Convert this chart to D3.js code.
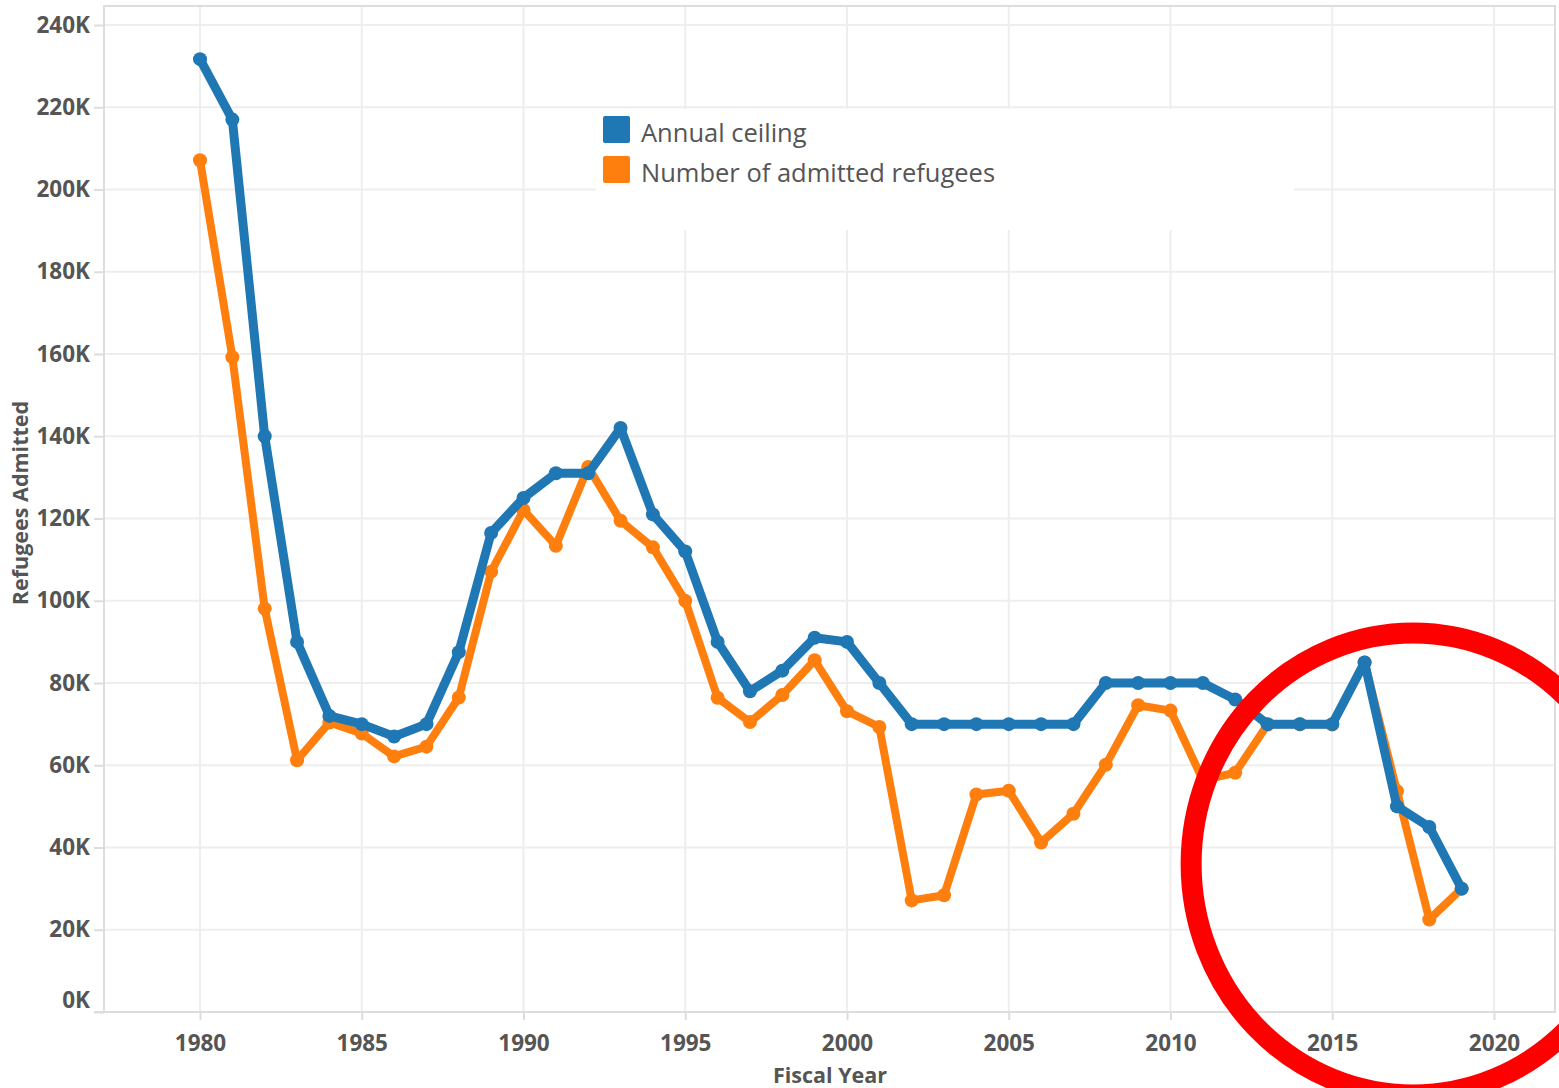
<!DOCTYPE html>
<html>
<head>
<meta charset="utf-8">
<script src="https://cdn.jsdelivr.net/npm/d3@7"></script>
<style>
  body { margin: 0; background: #fff; }
  svg { display: block; }
</style>
</head>
<body>
<div id="chart"></div>
<script>
// fiscal years and the two series
var years = d3.range(1980, 2020);
var ceiling = [231700, 217000, 140000, 90000, 72000, 70000, 67000, 70000, 87500, 116500,
               125000, 131000, 131000, 142000, 121000, 112000, 90000, 78000, 83000, 91000,
               90000, 80000, 70000, 70000, 70000, 70000, 70000, 70000, 80000, 80000,
               80000, 80000, 76000, 70000, 70000, 70000, 85000, 50000, 45000, 30000];
var admitted = [207116, 159252, 98096, 61218, 70393, 67704, 62146, 64528, 76483, 107070,
                122066, 113389, 132531, 119448, 112981, 99974, 76403, 70488, 77080, 85525,
                73147, 69304, 27131, 28403, 52873, 53813, 41223, 48218, 60107, 74602,
                73293, 56384, 58179, 69909, 69975, 69920, 84994, 53716, 22491, 30000];
var seriesNames = ["Annual ceiling", "Number of admitted refugees"];
var seriesColors = ["#1f77b4", "#ff7f0e"];
var xTicks = [1980, 1985, 1990, 1995, 2000, 2005, 2010, 2015, 2020];
var yTicks = d3.range(0, 240001, 20000);

(function() {
  var width = 1559,
      height = 1088;

  var plotLeft = 104, plotRight = 1555, plotTop = 6, plotBottom = 1012;

  var svg = d3.select("#chart")
    .append("svg")
    .attr("width", width)
    .attr("height", height);

  var x = d3.scaleLinear().domain([1980, 2020]).range([200, 1494]);
  var y = d3.scaleLinear().domain([0, 240000]).range([plotBottom, 25]);

  var fontTick = "'Open Sans', 'DejaVu Sans', sans-serif";

  //gridlines
  svg.append("g").selectAll("line.gy")
    .data(yTicks)
    .enter().append("line")
    .attr("x1", plotLeft).attr("x2", plotRight)
    .attr("y1", function(d) { return y(d); })
    .attr("y2", function(d) { return y(d); })
    .attr("stroke", "#eeeeee").attr("stroke-width", 2);

  svg.append("g").selectAll("line.gx")
    .data(xTicks)
    .enter().append("line")
    .attr("x1", function(d) { return x(d); })
    .attr("x2", function(d) { return x(d); })
    .attr("y1", plotTop).attr("y2", plotBottom)
    .attr("stroke", "#eeeeee").attr("stroke-width", 2);

  //white patch behind the legend hides the grid there
  svg.append("rect")
    .attr("x", 596).attr("y", 109)
    .attr("width", 698).attr("height", 121)
    .attr("fill", "#fff");

  //plot border
  svg.append("rect")
    .attr("x", plotLeft).attr("y", plotTop)
    .attr("width", plotRight - plotLeft).attr("height", plotBottom - plotTop)
    .attr("fill", "none")
    .attr("stroke", "#dddddd").attr("stroke-width", 2);

  //axes
  var yAxis = d3.axisLeft(y).tickValues(yTicks).tickSize(10).tickPadding(4)
    .tickFormat(function(d) { return (d / 1000) + "K"; });
  var gy = svg.append("g")
    .attr("transform", "translate(" + plotLeft + ",0)")
    .call(yAxis);

  var xAxis = d3.axisBottom(x).tickValues(xTicks).tickSize(8).tickPadding(15)
    .tickFormat(d3.format("d"));
  var gx = svg.append("g")
    .attr("transform", "translate(0," + plotBottom + ")")
    .call(xAxis);

  [gx, gy].forEach(function(g) {
    g.select(".domain").remove();
    g.selectAll(".tick line").attr("stroke", "#dddddd").attr("stroke-width", 2);
    g.selectAll(".tick text")
      .attr("fill", "#555")
      .style("font-family", fontTick)
      .style("font-weight", "bold")
      .style("font-size", "22.5px");
  });
  gy.selectAll(".tick text").filter(function(d) { return d === 0; }).attr("dy", "-0.2em");

  svg.append("line")
    .attr("x1", plotLeft - 10).attr("x2", plotRight)
    .attr("y1", plotBottom).attr("y2", plotBottom)
    .attr("stroke", "#dddddd").attr("stroke-width", 2);

  //axis titles
  svg.append("text")
    .attr("x", 830).attr("y", 1083)
    .attr("text-anchor", "middle")
    .attr("fill", "#555")
    .style("font-family", fontTick).style("font-weight", "bold").style("font-size", "21.5px")
    .text("Fiscal Year");

  svg.append("text")
    .attr("transform", "translate(28,503) rotate(-90)")
    .attr("text-anchor", "middle")
    .attr("fill", "#555")
    .style("font-family", fontTick).style("font-weight", "bold").style("font-size", "21.5px")
    .text("Refugees Admitted");

  //lines and points, orange under blue
  var series = [
    { name: seriesNames[1], color: seriesColors[1], values: admitted, w: 8 },
    { name: seriesNames[0], color: seriesColors[0], values: ceiling, w: 9 }
  ];

  var line = d3.line()
    .x(function(d, i) { return x(years[i]); })
    .y(function(d) { return y(d); });

  series.forEach(function(s) {
    var g = svg.append("g");
    g.append("path")
      .datum(s.values)
      .attr("d", line)
      .attr("fill", "none")
      .attr("stroke", s.color)
      .attr("stroke-width", s.w)
      .attr("stroke-linejoin", "round");
    g.selectAll("circle")
      .data(s.values)
      .enter().append("circle")
      .attr("cx", function(d, i) { return x(years[i]); })
      .attr("cy", function(d) { return y(d); })
      .attr("r", 7)
      .attr("fill", s.color);
  });

  //legend
  var legend = svg.append("g");
  seriesNames.forEach(function(name, i) {
    legend.append("rect")
      .attr("x", 603).attr("y", 116 + i * 40)
      .attr("width", 27).attr("height", 27)
      .attr("rx", 2)
      .attr("fill", seriesColors[i]);
    legend.append("text")
      .attr("x", 641).attr("y", 142 + i * 40)
      .attr("fill", "#555")
      .style("font-family", fontTick)
      .style("font-size", "25.5px")
      .text(name);
  });

  //red annotation circle around the last years
  svg.append("ellipse")
    .attr("cx", x(2017.5))
    .attr("cy", y(36000))
    .attr("rx", 222).attr("ry", 231)
    .attr("fill", "none")
    .attr("stroke", "#ff0000")
    .attr("stroke-width", 21);
})();
</script>
</body>
</html>
